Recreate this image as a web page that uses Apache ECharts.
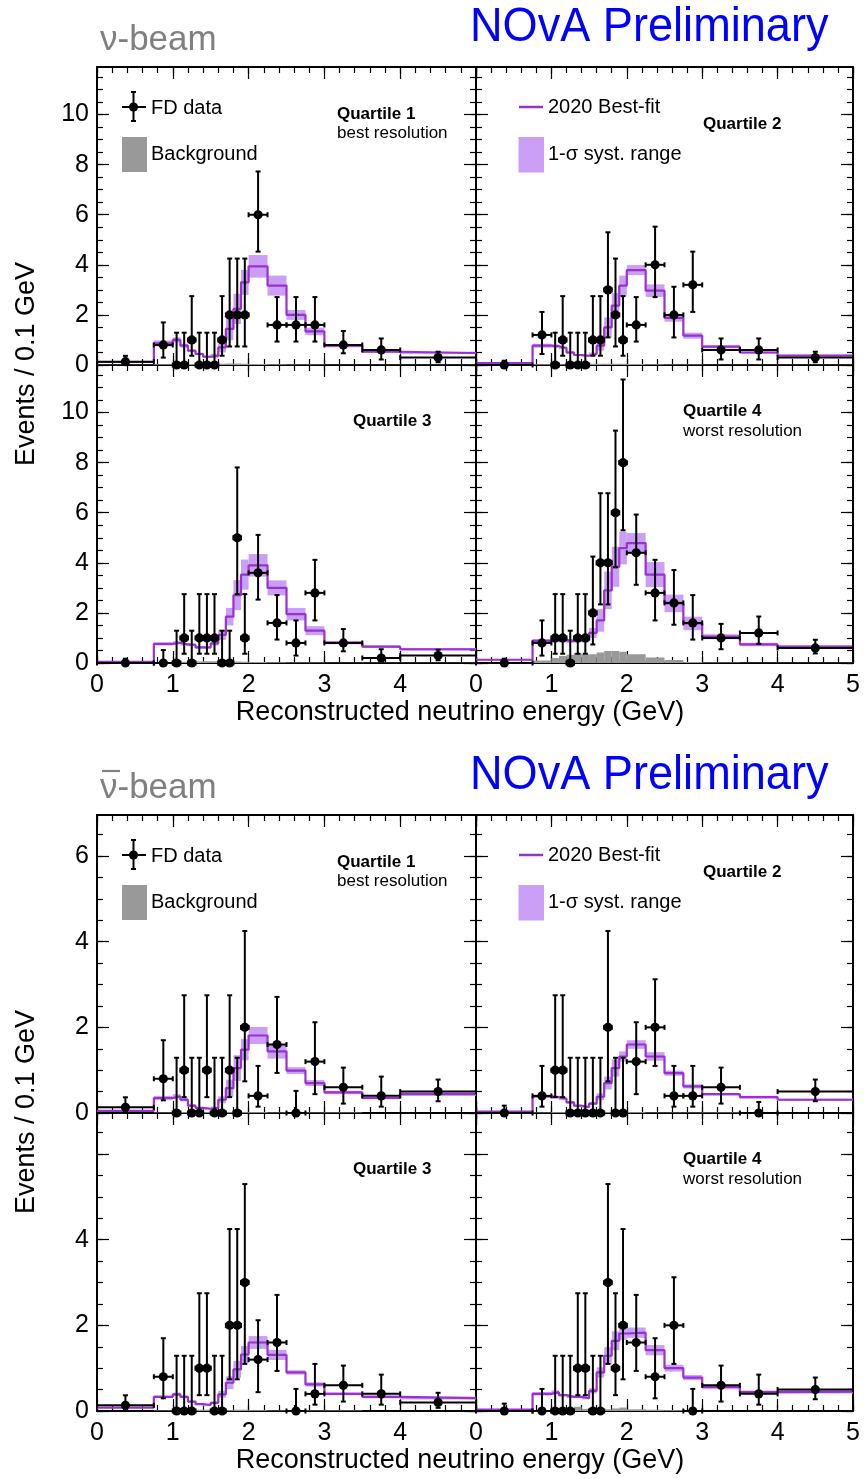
<!DOCTYPE html>
<html>
<head>
<meta charset="utf-8">
<script src="https://cdn.jsdelivr.net/npm/echarts@6/dist/echarts.min.js"></script>
<style>
  html, body { margin: 0; padding: 0; background: #fff; }
  #chart { width: 864px; height: 1479px; }
</style>
</head>
<body>
<div id="chart"></div>
<script>
// Reconstructed neutrino energy bin edges (GeV), common to every quartile
const binEdges = [0, 0.75, 1.0, 1.1, 1.2, 1.3, 1.4, 1.5, 1.6, 1.7, 1.8, 1.9, 2.0, 2.25, 2.5, 2.75, 3.0, 3.5, 4.0, 5.0];

// ---- neutrino beam ----
// observed FD events per bin
const nuQ1Counts = [1, 2, 0, 0, 1, 0, 0, 0, 1, 2, 2, 2, 15, 4, 4, 4, 4, 3, 3];
const nuQ2Counts = [0, 3, 0, 1, 0, 0, 0, 1, 1, 3, 2, 1, 4, 10, 5, 8, 3, 3, 3];
const nuQ3Counts = [0, 0, 0, 1, 0, 1, 1, 1, 0, 0, 5, 1, 9, 4, 2, 7, 4, 1, 3];
const nuQ4Counts = [0, 2, 1, 1, 0, 1, 1, 2, 4, 4, 6, 8, 11, 7, 6, 4, 5, 6, 6];
// 2020 best-fit prediction, events / 0.1 GeV
const nuQ1Pred = [0.12, 0.86, 1.0, 0.77, 0.57, 0.44, 0.33, 0.37, 0.7, 1.44, 2.24, 3.3, 3.94, 3.17, 2.0, 1.34, 0.77, 0.53, 0.48];
const nuQ2Pred = [0.08, 0.77, 0.75, 0.68, 0.5, 0.4, 0.37, 0.44, 0.77, 1.5, 2.37, 3.17, 3.79, 2.97, 1.88, 1.17, 0.73, 0.5, 0.38];
const nuQ3Pred = [0.05, 0.76, 0.81, 0.74, 0.72, 0.62, 0.62, 0.78, 1.12, 1.85, 2.71, 3.53, 3.9, 3.0, 1.95, 1.29, 0.81, 0.65, 0.55];
const nuQ4Pred = [0.13, 0.88, 0.9, 0.9, 0.88, 0.9, 0.92, 1.2, 1.7, 2.9, 3.84, 4.59, 4.79, 3.53, 2.38, 1.58, 1.05, 0.74, 0.65];
// 1-sigma systematic half-width, events / 0.1 GeV
const nuQ1Syst = [0.03, 0.12, 0.1, 0.08, 0.06, 0.05, 0.05, 0.08, 0.2, 0.45, 0.6, 0.5, 0.45, 0.4, 0.2, 0.15, 0.06, 0.04, 0.04];
const nuQ2Syst = [0.02, 0.08, 0.06, 0.05, 0.05, 0.04, 0.04, 0.06, 0.2, 0.4, 0.5, 0.4, 0.2, 0.25, 0.15, 0.12, 0.06, 0.04, 0.03];
const nuQ3Syst = [0.02, 0.06, 0.06, 0.05, 0.05, 0.05, 0.05, 0.08, 0.2, 0.35, 0.6, 0.6, 0.45, 0.3, 0.25, 0.18, 0.06, 0.05, 0.05];
const nuQ4Syst = [0.02, 0.08, 0.08, 0.08, 0.08, 0.08, 0.1, 0.2, 0.45, 0.75, 0.8, 0.65, 0.4, 0.5, 0.35, 0.27, 0.1, 0.07, 0.05];
// background prediction, events / 0.1 GeV
const nuQ1Bkg = [0.01, 0.03, 0.03, 0.03, 0.04, 0.04, 0.05, 0.05, 0.05, 0.06, 0.06, 0.05, 0.04, 0.03, 0.02, 0.02, 0.01, 0.01, 0.01];
const nuQ2Bkg = [0.01, 0.03, 0.03, 0.03, 0.04, 0.04, 0.05, 0.05, 0.05, 0.05, 0.05, 0.05, 0.04, 0.03, 0.02, 0.02, 0.01, 0.01, 0.01];
const nuQ3Bkg = [0.01, 0.03, 0.04, 0.05, 0.06, 0.06, 0.07, 0.07, 0.07, 0.07, 0.06, 0.05, 0.04, 0.03, 0.02, 0.02, 0.01, 0.01, 0.01];
const nuQ4Bkg = [0.0, 0.1, 0.2, 0.28, 0.33, 0.4, 0.35, 0.35, 0.42, 0.48, 0.48, 0.45, 0.35, 0.22, 0.12, 0.04, 0.02, 0.01, 0.01];

// ---- antineutrino beam ----
const nubarQ1Counts = [1, 2, 0, 1, 0, 0, 1, 0, 0, 1, 0, 2, 1, 4, 0, 3, 3, 2, 5];
const nubarQ2Counts = [0, 1, 1, 1, 0, 0, 0, 0, 0, 2, 0, 0, 3, 5, 1, 1, 3, 0, 5];
const nubarQ3Counts = [1, 2, 0, 0, 0, 1, 1, 0, 0, 2, 2, 3, 3, 4, 0, 1, 3, 2, 2];
const nubarQ4Counts = [0, 0, 0, 0, 0, 1, 1, 0, 0, 3, 1, 2, 4, 2, 5, 0, 3, 2, 5];
const nubarQ1Pred = [0.05, 0.35, 0.39, 0.31, 0.17, 0.12, 0.1, 0.12, 0.31, 0.58, 1.05, 1.48, 1.81, 1.44, 0.99, 0.7, 0.48, 0.35, 0.44];
const nubarQ2Pred = [0.03, 0.39, 0.37, 0.33, 0.25, 0.17, 0.14, 0.22, 0.38, 0.7, 1.05, 1.32, 1.6, 1.32, 0.93, 0.62, 0.44, 0.37, 0.31];
const nubarQ3Pred = [0.08, 0.33, 0.39, 0.33, 0.22, 0.16, 0.14, 0.19, 0.39, 0.66, 0.97, 1.32, 1.6, 1.31, 0.9, 0.62, 0.4, 0.33, 0.3];
const nubarQ4Pred = [0.03, 0.4, 0.44, 0.37, 0.33, 0.33, 0.3, 0.47, 0.9, 1.29, 1.64, 1.81, 1.83, 1.42, 1.0, 0.78, 0.56, 0.44, 0.45];
const nubarQ1Syst = [0.01, 0.05, 0.05, 0.04, 0.03, 0.02, 0.02, 0.03, 0.08, 0.2, 0.3, 0.25, 0.2, 0.17, 0.08, 0.07, 0.04, 0.03, 0.04];
const nubarQ2Syst = [0.01, 0.03, 0.03, 0.03, 0.03, 0.02, 0.02, 0.03, 0.08, 0.15, 0.2, 0.12, 0.1, 0.1, 0.06, 0.05, 0.03, 0.03, 0.02];
const nubarQ3Syst = [0.01, 0.03, 0.04, 0.03, 0.02, 0.02, 0.02, 0.03, 0.08, 0.15, 0.2, 0.2, 0.15, 0.12, 0.05, 0.05, 0.03, 0.03, 0.03];
const nubarQ4Syst = [0.01, 0.04, 0.04, 0.03, 0.03, 0.03, 0.03, 0.06, 0.12, 0.2, 0.22, 0.15, 0.12, 0.12, 0.08, 0.06, 0.05, 0.04, 0.04];
const nubarQ1Bkg = [0.0, 0.01, 0.02, 0.02, 0.02, 0.02, 0.02, 0.02, 0.02, 0.02, 0.02, 0.02, 0.02, 0.01, 0.01, 0.01, 0.01, 0.0, 0.0];
const nubarQ2Bkg = [0.0, 0.01, 0.02, 0.02, 0.02, 0.02, 0.02, 0.02, 0.02, 0.02, 0.02, 0.02, 0.02, 0.01, 0.01, 0.01, 0.01, 0.0, 0.0];
const nubarQ3Bkg = [0.0, 0.01, 0.02, 0.02, 0.02, 0.03, 0.03, 0.02, 0.02, 0.02, 0.03, 0.03, 0.02, 0.01, 0.01, 0.01, 0.01, 0.0, 0.0];
const nubarQ4Bkg = [0.0, 0.01, 0.03, 0.02, 0.03, 0.1, 0.05, 0.02, 0.03, 0.04, 0.06, 0.08, 0.04, 0.03, 0.02, 0.01, 0.0, 0.0, 0.0];

// Feldman-Cousins 68.27% C.L. intervals for n observed events (no background)
const fcLow  = [0.00, 0.37, 0.74, 1.10, 2.34, 2.75, 3.82, 4.25, 5.30, 6.33, 6.78, 7.81, 8.83, 9.28, 10.30, 11.32];
const fcHigh = [1.29, 2.75, 4.25, 5.30, 6.78, 7.81, 9.28, 10.30, 11.32, 12.79, 13.81, 14.82, 16.29, 17.30, 18.32, 19.32];

// tick labels
const xLabelsLeft = [0, 1, 2, 3, 4];
const xLabelsRight = [0, 1, 2, 3, 4, 5];
const yLabelsNu = [0, 2, 4, 6, 8, 10];
const yLabelsNubarTop = [0, 2, 4, 6];
const yLabelsNubarBottom = [0, 2, 4];

const FONT = "'Liberation Sans', Arial, Helvetica, sans-serif";
const PURPLE = '#9a30d2';
const BAND = '#cb9ff6';
const BKG = '#999999';
const NU_YMAX = 11.9;
const NUBAR_YMAX = 6.96;
const PANEL_H = 298;

const panels = [
  { counts: nuQ1Counts, pred: nuQ1Pred, syst: nuQ1Syst, bkg: nuQ1Bkg, left: 97,  top: 67,   width: 379, ymax: NU_YMAX, xLabels: null, yLabels: yLabelsNu },
  { counts: nuQ2Counts, pred: nuQ2Pred, syst: nuQ2Syst, bkg: nuQ2Bkg, left: 476, top: 67,   width: 377, ymax: NU_YMAX, xLabels: null, yLabels: null },
  { counts: nuQ3Counts, pred: nuQ3Pred, syst: nuQ3Syst, bkg: nuQ3Bkg, left: 97,  top: 365,  width: 379, ymax: NU_YMAX, xLabels: xLabelsLeft, yLabels: yLabelsNu },
  { counts: nuQ4Counts, pred: nuQ4Pred, syst: nuQ4Syst, bkg: nuQ4Bkg, left: 476, top: 365,  width: 377, ymax: NU_YMAX, xLabels: xLabelsRight, yLabels: null },
  { counts: nubarQ1Counts, pred: nubarQ1Pred, syst: nubarQ1Syst, bkg: nubarQ1Bkg, left: 97,  top: 815,  width: 379, ymax: NUBAR_YMAX, xLabels: null, yLabels: yLabelsNubarTop },
  { counts: nubarQ2Counts, pred: nubarQ2Pred, syst: nubarQ2Syst, bkg: nubarQ2Bkg, left: 476, top: 815,  width: 377, ymax: NUBAR_YMAX, xLabels: null, yLabels: null },
  { counts: nubarQ3Counts, pred: nubarQ3Pred, syst: nubarQ3Syst, bkg: nubarQ3Bkg, left: 97,  top: 1113, width: 379, ymax: NUBAR_YMAX, xLabels: xLabelsLeft, yLabels: yLabelsNubarBottom },
  { counts: nubarQ4Counts, pred: nubarQ4Pred, syst: nubarQ4Syst, bkg: nubarQ4Bkg, left: 476, top: 1113, width: 377, ymax: NUBAR_YMAX, xLabels: xLabelsRight, yLabels: null }
];

// events per bin -> events / 0.1 GeV
const perTenth = binEdges.slice(0, -1).map((e, i) => (binEdges[i + 1] - e) / 0.1);

function tickList(max, step) {
  const out = [];
  for (let k = 0; k * step <= max + 1e-9; k++) out.push(Math.round(k * step * 1000) / 1000);
  return out;
}

function makeAxis(dim, gi, pos, min, max, interval, ticks, len, labels, showLine) {
  const ax = {
    type: 'value', gridIndex: gi, position: pos, min: min, max: max, interval: interval,
    axisLine: { show: showLine, onZero: false, lineStyle: { color: '#000', width: 2 } },
    axisTick: { show: true, inside: true, length: len, customValues: ticks, lineStyle: { color: '#000', width: 1.2 } },
    splitLine: { show: false },
    minorTick: { show: false },
    axisLabel: { show: false }
  };
  if (labels) {
    ax.axisLabel = {
      show: true, customValues: labels, color: '#000', fontSize: 25, fontFamily: FONT,
      margin: dim === 'x' ? 10 : 8, showMinLabel: true, showMaxLabel: true, hideOverlap: false,
      formatter: v => (labels.indexOf(v) >= 0 ? String(v) : '')
    };
  }
  return ax;
}

const grid = [], xAxis = [], yAxis = [], series = [];
const xMajor = tickList(5, 1), xMinor = tickList(5, 0.2);

panels.forEach((p, gi) => {
  grid.push({ left: p.left, top: p.top, width: p.width, height: PANEL_H, containLabel: false, show: false });
  const yMajor = tickList(p.ymax, 2), yMinor = tickList(p.ymax, 0.5);
  xAxis.push(makeAxis('x', gi, 'bottom', 0, 5, 1, xMajor, 12, p.xLabels, true));
  xAxis.push(makeAxis('x', gi, 'bottom', 0, 5, 0.2, xMinor, 6, null, false));
  xAxis.push(makeAxis('x', gi, 'top', 0, 5, 1, xMajor, 12, null, true));
  xAxis.push(makeAxis('x', gi, 'top', 0, 5, 0.2, xMinor, 6, null, false));
  yAxis.push(makeAxis('y', gi, 'left', 0, p.ymax, 2, yMajor, 12, p.yLabels, true));
  yAxis.push(makeAxis('y', gi, 'left', 0, p.ymax, 0.5, yMinor, 6, null, false));
  yAxis.push(makeAxis('y', gi, 'right', 0, p.ymax, 2, yMajor, 12, null, true));
  yAxis.push(makeAxis('y', gi, 'right', 0, p.ymax, 0.5, yMinor, 6, null, false));
  const xi = gi * 4, yi = gi * 4;

  // 1-sigma systematic band
  series.push({
    type: 'custom', xAxisIndex: xi, yAxisIndex: yi, z: 2, silent: true,
    data: p.pred.map((v, i) => [binEdges[i], binEdges[i + 1], v - p.syst[i], v + p.syst[i]]),
    encode: { x: [0, 1], y: [2, 3] },
    renderItem: (params, api) => {
      const a = api.coord([api.value(0), api.value(3)]);
      const b = api.coord([api.value(1), api.value(2)]);
      return { type: 'rect', shape: { x: a[0], y: a[1], width: b[0] - a[0], height: b[1] - a[1] }, style: { fill: BAND } };
    }
  });
  // background histogram
  series.push({
    type: 'custom', xAxisIndex: xi, yAxisIndex: yi, z: 2, silent: true,
    data: p.bkg.map((v, i) => [binEdges[i], binEdges[i + 1], 0, v]),
    encode: { x: [0, 1], y: [2, 3] },
    renderItem: (params, api) => {
      const a = api.coord([api.value(0), api.value(3)]);
      const b = api.coord([api.value(1), api.value(2)]);
      return { type: 'rect', shape: { x: a[0], y: a[1], width: b[0] - a[0], height: b[1] - a[1] }, style: { fill: BKG } };
    }
  });
  // best-fit step histogram
  series.push({
    type: 'line', xAxisIndex: xi, yAxisIndex: yi, z: 3, silent: true, step: 'end', symbol: 'none',
    lineStyle: { color: PURPLE, width: 2.2 },
    data: binEdges.map((e, i) => [e, p.pred[Math.min(i, p.pred.length - 1)]])
  });
  // FD data with Feldman-Cousins error bars
  series.push({
    type: 'custom', xAxisIndex: xi, yAxisIndex: yi, z: 4, silent: true, clip: false,
    data: p.counts.map((n, i) => {
      const s = perTenth[i];
      return [(binEdges[i] + binEdges[i + 1]) / 2, binEdges[i], binEdges[i + 1], n / s, fcLow[n] / s, fcHigh[n] / s];
    }),
    encode: { x: [0, 1, 2], y: [3, 4, 5] },
    renderItem: (params, api) => {
      const c = api.coord([api.value(0), api.value(3)]);
      const l = api.coord([api.value(1), api.value(3)]);
      const r = api.coord([api.value(2), api.value(3)]);
      const lo = api.coord([api.value(0), api.value(4)]);
      const hi = api.coord([api.value(0), api.value(5)]);
      const st = { stroke: '#000', lineWidth: 2 };
      const cw = 2.5;
      return {
        type: 'group', children: [
          { type: 'line', shape: { x1: c[0], y1: lo[1], x2: c[0], y2: hi[1] }, style: st },
          { type: 'line', shape: { x1: c[0] - cw, y1: hi[1], x2: c[0] + cw, y2: hi[1] }, style: st },
          { type: 'line', shape: { x1: c[0] - cw, y1: lo[1], x2: c[0] + cw, y2: lo[1] }, style: st },
          { type: 'line', shape: { x1: l[0], y1: c[1], x2: r[0], y2: c[1] }, style: st },
          { type: 'line', shape: { x1: l[0], y1: c[1] - cw, x2: l[0], y2: c[1] + cw }, style: st },
          { type: 'line', shape: { x1: r[0], y1: c[1] - cw, x2: r[0], y2: c[1] + cw }, style: st },
          { type: 'circle', shape: { cx: c[0], cy: c[1], r: 4.6 }, style: { fill: '#000' } }
        ]
      };
    }
  });
});

// text helper
function txt(x, y, s, font, fill, align, extra) {
  return Object.assign({
    type: 'text', x: x, y: y, z: 10, silent: true,
    style: { text: s, font: font, fill: fill || '#000', align: align || 'left', verticalAlign: 'middle',
             textAlign: align || 'left', textVerticalAlign: 'middle' }
  }, extra || {});
}

const graphic = [];
[0, 748].forEach((dy, fig) => {
  const black = { stroke: '#000', lineWidth: 2 };
  // beam label and preliminary tag
  graphic.push(txt(100, 40 + dy, 'ν-beam', '35px ' + FONT, '#808080'));
  if (fig === 1) {
    graphic.push({ type: 'line', z: 10, silent: true, shape: { x1: 102, y1: 771, x2: 120, y2: 771 }, style: { stroke: '#808080', lineWidth: 2.2 } });
  }
  graphic.push(txt(470, 28 + dy, 'NOvA Preliminary', '48px ' + FONT, '#0000ff', 'left', { scaleX: 0.94 }));
  // axis titles
  graphic.push(txt(27, 364 + dy, 'Events / 0.1 GeV', '27px ' + FONT, '#000', 'center', { rotation: Math.PI / 2 }));
  graphic.push(txt(460, 713 + dy, 'Reconstructed neutrino energy (GeV)', '27px ' + FONT, '#000', 'center'));
  // legend: data and background
  graphic.push({ type: 'line', z: 10, silent: true, shape: { x1: 122, y1: 107 + dy, x2: 146, y2: 107 + dy }, style: black });
  graphic.push({ type: 'line', z: 10, silent: true, shape: { x1: 133.5, y1: 92 + dy, x2: 133.5, y2: 121 + dy }, style: black });
  graphic.push({ type: 'line', z: 10, silent: true, shape: { x1: 131, y1: 92 + dy, x2: 136, y2: 92 + dy }, style: black });
  graphic.push({ type: 'line', z: 10, silent: true, shape: { x1: 131, y1: 121 + dy, x2: 136, y2: 121 + dy }, style: black });
  graphic.push({ type: 'circle', z: 10, silent: true, shape: { cx: 133.5, cy: 107 + dy, r: 4.6 }, style: { fill: '#000' } });
  graphic.push(txt(151, 108 + dy, 'FD data', '20px ' + FONT));
  graphic.push({ type: 'rect', z: 10, silent: true, shape: { x: 122, y: 137 + dy, width: 25, height: 35 }, style: { fill: BKG } });
  graphic.push(txt(151, 154 + dy, 'Background', '20px ' + FONT));
  // legend: best fit and systematic band
  graphic.push({ type: 'line', z: 10, silent: true, shape: { x1: 519, y1: 107 + dy, x2: 543, y2: 107 + dy }, style: { stroke: PURPLE, lineWidth: 2.5 } });
  graphic.push(txt(548, 107 + dy, '2020 Best-fit', '20px ' + FONT));
  graphic.push({ type: 'rect', z: 10, silent: true, shape: { x: 518.5, y: 137 + dy, width: 25.5, height: 35.5 }, style: { fill: BAND } });
  graphic.push(txt(548, 154 + dy, '1-σ syst. range', '20px ' + FONT));
  // quartile captions
  graphic.push(txt(337, 114 + dy, 'Quartile 1', 'bold 17px ' + FONT));
  graphic.push(txt(337, 133 + dy, 'best resolution', '17px ' + FONT));
  graphic.push(txt(703, 124 + dy, 'Quartile 2', 'bold 17px ' + FONT));
  graphic.push(txt(353, 421 + dy, 'Quartile 3', 'bold 17px ' + FONT));
  graphic.push(txt(683, 411 + dy, 'Quartile 4', 'bold 17px ' + FONT));
  graphic.push(txt(683, 431 + dy, 'worst resolution', '17px ' + FONT));
});

const chart = echarts.init(document.getElementById('chart'), null, { renderer: 'canvas' });
chart.setOption({
  animation: false,
  backgroundColor: '#fff',
  textStyle: { fontFamily: FONT },
  grid: grid,
  xAxis: xAxis,
  yAxis: yAxis,
  series: series,
  graphic: graphic
});
</script>
</body>
</html>
